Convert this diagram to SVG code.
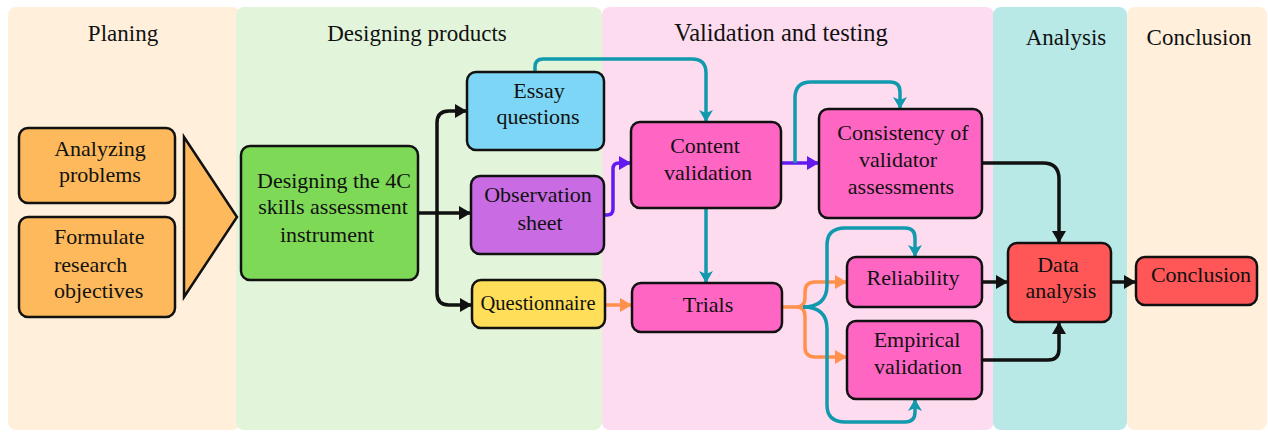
<svg xmlns="http://www.w3.org/2000/svg" width="1268" height="432" viewBox="0 0 1268 432">
<defs>
<style>
.t{font-family:"Liberation Serif","Times New Roman",serif;font-size:22px;fill:#111;text-anchor:middle}
.h{font-family:"Liberation Serif","Times New Roman",serif;font-size:23px;fill:#111;text-anchor:middle}
.s{text-anchor:start}
.b{stroke:#111;stroke-width:2.5}
.c{fill:none;stroke-width:3.5;stroke-linejoin:round}
.k{stroke:#111}
.te{stroke:#1199AD}
.pu{stroke:#6419EE}
.or{stroke:#FF914D}
</style>
<marker id="ak" markerUnits="userSpaceOnUse" markerWidth="14" markerHeight="16" refX="12" refY="8" orient="auto"><path d="M0,1 L12,8 L0,15 z" fill="#111"/></marker>
<marker id="at" markerUnits="userSpaceOnUse" markerWidth="14" markerHeight="16" refX="12" refY="8" orient="auto"><path d="M0,1 L12,8 L0,15 L3,8 z" fill="#1199AD"/></marker>
<marker id="ap" markerUnits="userSpaceOnUse" markerWidth="14" markerHeight="16" refX="12" refY="8" orient="auto"><path d="M0,1 L12,8 L0,15 z" fill="#6419EE"/></marker>
<marker id="ao" markerUnits="userSpaceOnUse" markerWidth="14" markerHeight="16" refX="12" refY="8" orient="auto"><path d="M0,1 L12,8 L0,15 z" fill="#FF914D"/></marker>
</defs>
<rect width="1268" height="432" fill="#fff"/>
<g id="lanes">
<rect x="8" y="7" width="232" height="423" rx="8" fill="#FFEFDB"/>
<rect x="236" y="7" width="366" height="423" rx="8" fill="#E2F5DA"/>
<rect x="602" y="7" width="392" height="423" rx="8" fill="#FEDCF0"/>
<rect x="993" y="7" width="134" height="423" rx="8" fill="#B8E9E7"/>
<rect x="1127" y="7" width="140" height="423" rx="8" fill="#FFEFDB"/>
<text class="h" x="123" y="41">Planing</text>
<text class="h" x="417" y="41">Designing products</text>
<text class="h" x="781" y="41" style="font-size:24.5px">Validation and testing</text>
<text class="h" x="1066" y="45">Analysis</text>
<text class="h" x="1199" y="45">Conclusion</text>
</g>
<g id="connectors">
<path class="c k" d="M418,213 H437"/>
<path class="c k" d="M437,213 V123 Q437,111 449,111 H467" marker-end="url(#ak)"/>
<path class="c k" d="M437,213 H471" marker-end="url(#ak)"/>
<path class="c k" d="M437,213 V293 Q437,305 449,305 H472" marker-end="url(#ak)"/>
<path class="c te" d="M535,72 V67 Q535,59 543,59 H692 Q706,59 706,73 V122" marker-end="url(#at)"/>
<path class="c pu" d="M604,215 H607 Q613,215 613,209 V169 Q613,163 619,163 H631" marker-end="url(#ap)"/>
<path class="c te" d="M706,208 V283" marker-end="url(#at)"/>
<path class="c pu" d="M781,163 H819" marker-end="url(#ap)"/>
<path class="c te" d="M795,163 V98 Q795,82 811,82 H890 Q900,82 900,92 V109" marker-end="url(#at)"/>
<path class="c or" d="M605,305 H632" marker-end="url(#ao)"/>
<path class="c or" d="M782,307 H797 Q805,307 805,297 V292 Q805,282 815,282 H847" marker-end="url(#ao)"/>
<path class="c or" d="M797,307 Q805,307 805,317 V347 Q805,357 815,357 H847" marker-end="url(#ao)"/>
<path class="c te" d="M803,307 Q827,307 827,285 V245 Q827,228 845,228 H905 Q915,228 915,238 V257" marker-end="url(#at)"/>
<path class="c te" d="M803,307 Q827,307 827,329 V405 Q827,422 845,422 H905 Q915,422 915,412 V399" marker-end="url(#at)"/>
<path class="c k" d="M982,163 H1043 Q1059,163 1059,179 V243" marker-end="url(#ak)"/>
<path class="c k" d="M982,282 H1008" marker-end="url(#ak)"/>
<path class="c k" d="M982,360 H1048 Q1059,360 1059,349 V322" marker-end="url(#ak)"/>
<path class="c k" d="M1111,282 H1136" marker-end="url(#ak)"/>
</g>
<g id="analyzing">
<rect class="b" x="19" y="128" width="156" height="75" rx="9" fill="#FDB95B"/>
<text class="t" x="100" y="156">Analyzing</text>
<text class="t" x="100" y="182">problems</text>
</g>
<g id="formulate">
<rect class="b" x="19" y="217" width="156" height="100" rx="9" fill="#FDB95B"/>
<text class="t s" x="54" y="244">Formulate</text>
<text class="t s" x="54" y="272">research</text>
<text class="t s" x="54" y="298">objectives</text>
</g>
<g id="bigarrow">
<polygon class="b" points="184,137 237,217 184,297" fill="#FDB95B"/>
</g>
<g id="designing">
<rect class="b" x="241" y="146" width="177" height="134" rx="9" fill="#7ED957"/>
<text class="t" x="334" y="188">Designing the 4C</text>
<text class="t" x="333" y="214">skills assessment</text>
<text class="t" x="327" y="242">instrument</text>
</g>
<g id="essay">
<rect class="b" x="467" y="72" width="137" height="78" rx="9" fill="#7DD6F6"/>
<text class="t" x="539" y="98">Essay</text>
<text class="t" x="538" y="124">questions</text>
</g>
<g id="observation">
<rect class="b" x="471" y="176" width="133" height="78" rx="9" fill="#C96CE3"/>
<text class="t" x="538" y="202">Observation</text>
<text class="t" x="540" y="230">sheet</text>
</g>
<g id="questionnaire">
<rect class="b" x="472" y="280" width="133" height="48" rx="9" fill="#FFDE59"/>
<text class="t" x="538" y="310" style="font-size:20.5px">Questionnaire</text>
</g>
<g id="content">
<rect class="b" x="631" y="122" width="150" height="86" rx="9" fill="#FF66C4"/>
<text class="t" x="705" y="153">Content</text>
<text class="t" x="708" y="180">validation</text>
</g>
<g id="trials">
<rect class="b" x="632" y="283" width="150" height="49" rx="9" fill="#FF66C4"/>
<text class="t" x="708" y="312">Trials</text>
</g>
<g id="consistency">
<rect class="b" x="819" y="109" width="163" height="109" rx="9" fill="#FF66C4"/>
<text class="t" x="903" y="140">Consistency of</text>
<text class="t" x="898" y="167">validator</text>
<text class="t" x="901" y="194">assessments</text>
</g>
<g id="reliability">
<rect class="b" x="847" y="257" width="135" height="50" rx="9" fill="#FF66C4"/>
<text class="t" x="913" y="285">Reliability</text>
</g>
<g id="empirical">
<rect class="b" x="847" y="321" width="135" height="78" rx="9" fill="#FF66C4"/>
<text class="t" x="917" y="347">Empirical</text>
<text class="t" x="918" y="374">validation</text>
</g>
<g id="data">
<rect class="b" x="1008" y="243" width="103" height="79" rx="9" fill="#FF5757"/>
<text class="t" x="1058" y="272">Data</text>
<text class="t" x="1061" y="298">analysis</text>
</g>
<g id="conclusion">
<rect class="b" x="1136" y="257" width="121" height="48" rx="9" fill="#FF5757"/>
<text class="t" x="1201" y="282">Conclusion</text>
</g>
</svg>
